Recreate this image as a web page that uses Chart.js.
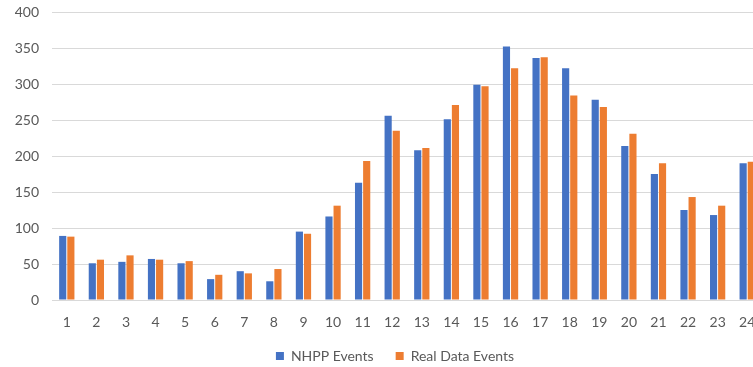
<!DOCTYPE html>
<html>
<head>
<meta charset="utf-8">
<script src="https://cdn.jsdelivr.net/npm/chart.js@4/dist/chart.umd.min.js"></script>
<style>
  html, body { margin: 0; padding: 0; background: #fff; overflow: hidden; }
  #wrap { width: 753px; height: 367px; overflow: hidden; }
</style>
</head>
<body>
<div id="wrap"><canvas id="chart" width="790" height="373"></canvas></div>
<script>
// hours 1..24, chart is cut off on the right like the original
const hours = ['1','2','3','4','5','6','7','8','9','10','11','12','13','14','15','16','17','18','19','20','21','22','23','24'];
const nhppEvents = [89, 51, 53, 57, 51, 29, 40, 26, 95, 116, 163, 256, 208, 251, 299, 352, 336, 322, 278, 214, 175, 125, 118, 190];
const realEvents = [88, 56, 62, 56, 54, 35, 37, 43, 92, 131, 193, 235, 211, 271, 297, 322, 337, 284, 268, 231, 190, 143, 131, 192];
const yTicks = [0, 50, 100, 150, 200, 250, 300, 350, 400];

const txt = '#595959';
const fontFam = 'Lato, "Open Sans", sans-serif';

new Chart(document.getElementById('chart'), {
  type: 'bar',
  data: {
    labels: hours,
    datasets: [
      { label: 'NHPP Events', data: nhppEvents, backgroundColor: '#4472C4',
        categoryPercentage: 0.55, barPercentage: 0.88 },
      { label: 'Real Data Events', data: realEvents, backgroundColor: '#ED7D31',
        categoryPercentage: 0.55, barPercentage: 0.88 }
    ]
  },
  options: {
    responsive: false,
    animation: false,
    devicePixelRatio: 1,
    layout: { padding: 0 },
    plugins: {
      tooltip: { enabled: false },
      legend: {
        position: 'bottom',
        labels: {
          boxWidth: 8, boxHeight: 8, padding: 22,
          color: txt, font: { family: fontFam, size: 14 }
        }
      }
    },
    scales: {
      x: {
        grid: { display: false, drawTicks: false },
        border: { color: '#d9d9d9' },
        ticks: { color: txt, padding: 14, maxRotation: 0, autoSkip: false,
                 font: { family: fontFam, size: 14 } },
        afterFit: s => { s.height = 27; s.paddingRight = 28; s.paddingLeft = 0; }
      },
      y: {
        min: 0, max: 400,
        afterBuildTicks: s => { s.ticks = yTicks.map(v => ({ value: v })); },
        grid: { color: '#d9d9d9', drawTicks: false },
        border: { display: false },
        ticks: { color: txt, padding: 13, font: { family: fontFam, size: 14 } },
        afterFit: s => { s.width = 52; s.paddingTop = 12; s.paddingBottom = 0; }
      }
    }
  }
});
</script>
</body>
</html>
